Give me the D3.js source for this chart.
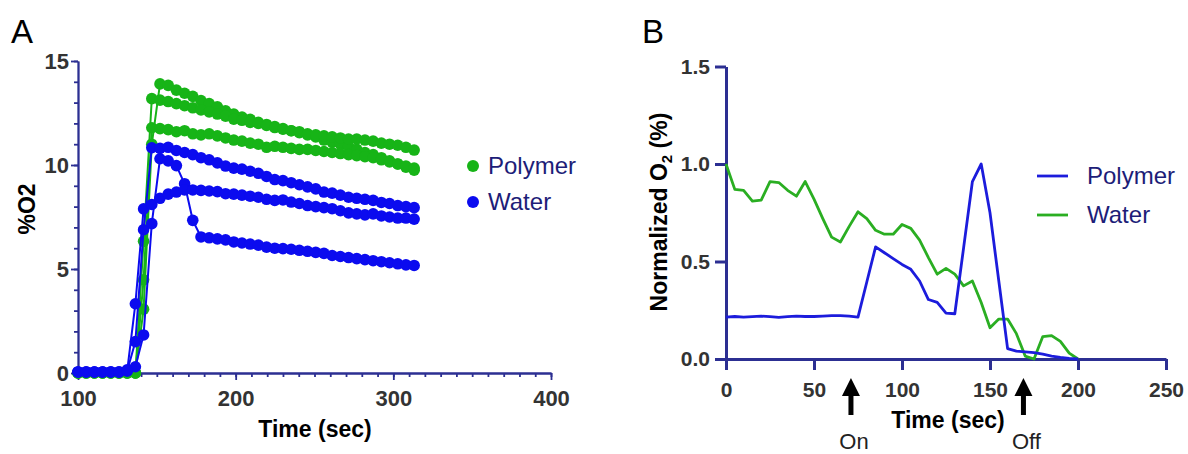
<!DOCTYPE html>
<html>
<head>
<meta charset="utf-8">
<script src="https://cdn.jsdelivr.net/npm/d3@7"></script>
<style>
  body { margin: 0; background: #fff; }
  svg { display: block; font-family: "Liberation Sans", Arial, sans-serif; }
</style>
</head>
<body>
<svg id="fig" width="1188" height="454"></svg>
<script>
// ---------- Panel A: raw %O2 traces (one sample every ~5.2 s) ----------
const timeA = [100, 105.2, 110.4, 115.6, 120.8, 126, 131.2, 136.4, 141.6, 146.8,
  152, 157.2, 162.4, 167.6, 172.8, 178, 183.2, 188.4, 193.6, 198.8,
  204, 209.2, 214.4, 219.6, 224.8, 230, 235.2, 240.4, 245.6, 250.8,
  256, 261.2, 266.4, 271.6, 276.8, 282, 287.2, 292.4, 297.6, 302.8, 308, 313.2];

const polymerRun1 = [0, 0, 0, 0, 0, 0, 0, 0, 3.07, 11.0,
  13.9, 13.83, 13.6, 13.45, 13.3, 13.1, 12.95, 12.8, 12.6, 12.45,
  12.3, 12.2, 12.05, 11.95, 11.85, 11.75, 11.65, 11.55, 11.45, 11.35,
  11.2, 11.1, 11.0, 10.9, 10.75, 10.6, 10.5, 10.35, 10.2, 10.05, 9.9, 9.75];
const polymerRun2 = [0, 0, 0, 0, 0, 0, 0, 0, 6.33, 13.19,
  13.12, 13.05, 12.95, 12.85, 12.75, 12.65, 12.55, 12.45, 12.35, 12.2,
  12.15, 12.05, 12.0, 11.9, 11.8, 11.72, 11.65, 11.6, 11.5, 11.45,
  11.4, 11.35, 11.3, 11.25, 11.25, 11.2, 11.15, 11.05, 11.0, 10.95, 10.85, 10.72];
const polymerRun3 = [0, 0, 0, 0, 0, 0, 0, 0, 4.48, 11.79,
  11.75, 11.7, 11.6, 11.65, 11.5, 11.45, 11.5, 11.4, 11.3, 11.2,
  11.15, 11.05, 11.0, 10.85, 10.9, 10.85, 10.8, 10.75, 10.75, 10.7,
  10.65, 10.6, 10.55, 10.5, 10.45, 10.4, 10.35, 10.25, 10.15, 10.05, 9.95, 9.85];

const waterRun1 = [0.05, 0.05, 0.05, 0.05, 0.05, 0.05, 0.1, 1.51, 6.89, 10.83,
  10.8, 10.85, 10.7, 10.6, 10.5, 10.35, 10.25, 10.1, 9.95, 9.85,
  9.8, 9.7, 9.6, 9.45, 9.3, 9.25, 9.15, 9.05, 8.95, 8.85,
  8.7, 8.65, 8.55, 8.45, 8.4, 8.35, 8.3, 8.2, 8.15, 8.05, 8.0, 7.95];
const waterRun2 = [0.05, 0.05, 0.05, 0.05, 0.05, 0.05, 0.15, 0.3, 1.83, 7.18,
  10.3, 10.2, 9.97, 9.1, 7.34, 6.54, 6.5, 6.45, 6.4, 6.3,
  6.25, 6.2, 6.15, 6.05, 6.0, 5.98, 5.95, 5.9, 5.85, 5.8,
  5.75, 5.65, 5.6, 5.55, 5.5, 5.45, 5.4, 5.35, 5.3, 5.25, 5.2, 5.17];
const waterRun3 = [0.05, 0.05, 0.05, 0.05, 0.05, 0.05, 0.1, 3.33, 7.89, 8.1,
  8.4, 8.6, 8.7, 8.8, 8.8, 8.78, 8.75, 8.72, 8.62, 8.6,
  8.55, 8.5, 8.45, 8.35, 8.3, 8.32, 8.22, 8.15, 8.05, 8.0,
  7.95, 7.9, 7.8, 7.7, 7.65, 7.6, 7.65, 7.55, 7.5, 7.45, 7.45, 7.4];

const groupsA = ["Polymer", "Water"];
const xTicksA = [100, 200, 300, 400];
const yTicksA = [0, 5, 10, 15];

// ---------- Panel B: normalised O2 with light switched on/off ----------
const timeB = [0, 5, 10, 15, 20, 25, 30, 35, 40, 45, 50, 55, 60, 65, 70, 75, 80, 85, 90, 95,
  100, 105, 110, 115, 120, 125, 130, 135, 140, 145, 150, 155, 160, 165, 170, 175, 180, 185, 190, 195, 200];
const polymerNorm = [0.215, 0.218, 0.215, 0.217, 0.22, 0.217, 0.213, 0.217, 0.22, 0.218,
  0.218, 0.22, 0.222, 0.222, 0.22, 0.215, 0.395, 0.575, 0.545, 0.515,
  0.485, 0.46, 0.40, 0.305, 0.29, 0.235, 0.232, 0.57, 0.91, 1.0,
  0.75, 0.40, 0.053, 0.04, 0.037, 0.033, 0.025, 0.015, 0.008, 0.003, 0.0];
const waterNorm = [1.0, 0.87, 0.865, 0.81, 0.815, 0.91, 0.905, 0.865, 0.835, 0.91,
  0.82, 0.72, 0.625, 0.6, 0.68, 0.755, 0.72, 0.66, 0.64, 0.64,
  0.69, 0.67, 0.61, 0.52, 0.435, 0.465, 0.435, 0.375, 0.40, 0.29,
  0.16, 0.205, 0.205, 0.13, 0.015, 0.0, 0.115, 0.12, 0.09, 0.03, 0.0];
const groupsB = ["Polymer", "Water"];
const xTicksB = [0, 50, 100, 150, 200, 250];
const yTicksB = [0, 0.5, 1.0, 1.5];
const switchEvents = [{ label: "On", t: 71 }, { label: "Off", t: 169 }];

// ---------- styling ----------
const greenA = "#17b417", blueA = "#0b0bef";
const blueB = "#1c1cdc", greenB = "#2aae22";
const axisCol = "#2c2f92";
const tickTxt = "#333333";
const legendTxt = "#1d1d78";

const svg = d3.select("#fig");

// panel letters
svg.append("text").attr("x", 11).attr("y", 43).attr("font-size", 33).text("A");
svg.append("text").attr("x", 642).attr("y", 43).attr("font-size", 33).text("B");

// ================= Panel A =================
const xA = d3.scaleLinear().domain([100, 400]).range([78, 551]);
const yA = d3.scaleLinear().domain([0, 15]).range([373, 61]);

const gA = svg.append("g");

function styleAxis(g, width, fontSize) {
  g.attr("font-family", null).attr("font-size", null);
  g.selectAll(".domain").attr("stroke", axisCol).attr("stroke-width", width);
  g.selectAll(".tick line").attr("stroke", axisCol).attr("stroke-width", width);
  g.selectAll(".tick text").attr("fill", tickTxt).attr("font-weight", "bold")
    .attr("font-size", fontSize);
}

// minor ticks
gA.append("g").attr("transform", "translate(78,0)")
  .call(d3.axisLeft(yA).tickValues(d3.range(0, 16, 1)).tickSize(4).tickSizeOuter(0).tickFormat(""))
  .call(g => styleAxis(g, 1.8, 20));
gA.append("g").attr("transform", "translate(0,373)")
  .call(d3.axisBottom(xA).tickValues(d3.range(100, 401, 10)).tickSize(4).tickSizeOuter(0).tickFormat(""))
  .call(g => styleAxis(g, 1.8, 20));
// major ticks + labels
gA.append("g").attr("transform", "translate(78,0)")
  .call(d3.axisLeft(yA).tickValues(yTicksA).tickSize(7).tickSizeOuter(0).tickPadding(2).tickFormat(d3.format("d")))
  .call(g => styleAxis(g, 1.8, 22));
gA.append("g").attr("transform", "translate(0,373)")
  .call(d3.axisBottom(xA).tickValues(xTicksA).tickSize(7).tickSizeOuter(0).tickPadding(10).tickFormat(d3.format("d")))
  .call(g => styleAxis(g, 1.8, 22));

gA.append("text").attr("x", 315).attr("y", 437).attr("text-anchor", "middle")
  .attr("font-weight", "bold").attr("font-size", 23).text("Time (sec)");
gA.append("text").attr("transform", "translate(35,209) rotate(-90)").attr("text-anchor", "middle")
  .attr("font-weight", "bold").attr("font-size", 23).text("%O2");

const runsA = [
  { group: "Polymer", color: greenA, values: polymerRun1 },
  { group: "Polymer", color: greenA, values: polymerRun2 },
  { group: "Polymer", color: greenA, values: polymerRun3 },
  { group: "Water", color: blueA, values: waterRun1 },
  { group: "Water", color: blueA, values: waterRun2 },
  { group: "Water", color: blueA, values: waterRun3 }
];
const lineA = d3.line().x(d => xA(d[0])).y(d => yA(d[1]));
runsA.forEach(run => {
  const pts = d3.zip(timeA, run.values);
  const g = gA.append("g");
  g.append("path").datum(pts).attr("d", lineA).attr("fill", "none")
    .attr("stroke", run.color).attr("stroke-width", 2);
  g.selectAll("circle").data(pts).join("circle")
    .attr("cx", d => xA(d[0])).attr("cy", d => yA(d[1])).attr("r", 5.8)
    .attr("fill", run.color);
});

// legend A
const colorA = { Polymer: greenA, Water: blueA };
groupsA.forEach((name, i) => {
  const cy = 166 + i * 36;
  gA.append("circle").attr("cx", 473).attr("cy", cy).attr("r", 6).attr("fill", colorA[name]);
  gA.append("text").attr("x", 488).attr("y", cy + 8).attr("font-size", 24)
    .attr("fill", legendTxt).text(name);
});

// ================= Panel B =================
const xB = d3.scaleLinear().domain([0, 250]).range([726, 1166]);
const yB = d3.scaleLinear().domain([0, 1.5]).range([359, 66.5]);
const gB = svg.append("g");

gB.append("g").attr("transform", "translate(726,0)")
  .call(d3.axisLeft(yB).tickValues(yTicksB).tickSize(11).tickSizeOuter(0).tickPadding(5).tickFormat(d3.format(".1f")))
  .call(g => styleAxis(g, 3, 21));
gB.append("g").attr("transform", "translate(0,359)")
  .call(d3.axisBottom(xB).tickValues(xTicksB).tickSize(11).tickSizeOuter(0).tickPadding(12).tickFormat(d3.format("d")))
  .call(g => styleAxis(g, 3, 21));

const lineB = d3.line().x(d => xB(d[0])).y(d => yB(d[1]));
[{ values: waterNorm, color: greenB }, { values: polymerNorm, color: blueB }].forEach(s => {
  gB.append("path").datum(d3.zip(timeB, s.values)).attr("d", lineB)
    .attr("fill", "none").attr("stroke", s.color).attr("stroke-width", 2.8)
    .attr("stroke-linejoin", "round");
});

// legend B
const colorB = { Polymer: blueB, Water: greenB };
groupsB.forEach((name, i) => {
  const cy = 176 + i * 39;
  gB.append("line").attr("x1", 1037).attr("x2", 1068).attr("y1", cy).attr("y2", cy)
    .attr("stroke", colorB[name]).attr("stroke-width", 2.8);
  gB.append("text").attr("x", 1087).attr("y", cy + 8).attr("font-size", 24)
    .attr("fill", legendTxt).text(name);
});

// axis titles B
gB.append("text").attr("x", 948).attr("y", 428).attr("text-anchor", "middle")
  .attr("font-weight", "bold").attr("font-size", 23).text("Time (sec)");
const yTitle = gB.append("text").attr("transform", "translate(667,212) rotate(-90)")
  .attr("text-anchor", "middle").attr("font-weight", "bold").attr("font-size", 23);
yTitle.append("tspan").text("Normalized O");
yTitle.append("tspan").attr("font-size", 15).attr("dy", 5).text("2");
yTitle.append("tspan").attr("dy", -5).text(" (%)");

// on/off arrows
switchEvents.forEach(ev => {
  const x = xB(ev.t), top = 378;
  gB.append("path")
    .attr("d", `M${x},${top} L${x + 9},${top + 18} L${x + 2.5},${top + 18} L${x + 2.5},${top + 37} L${x - 2.5},${top + 37} L${x - 2.5},${top + 18} L${x - 9},${top + 18} Z`)
    .attr("fill", "#000");
  gB.append("text").attr("x", x + 3).attr("y", 449).attr("text-anchor", "middle")
    .attr("font-size", 22).attr("fill", "#222").text(ev.label);
});
</script>
</body>
</html>
